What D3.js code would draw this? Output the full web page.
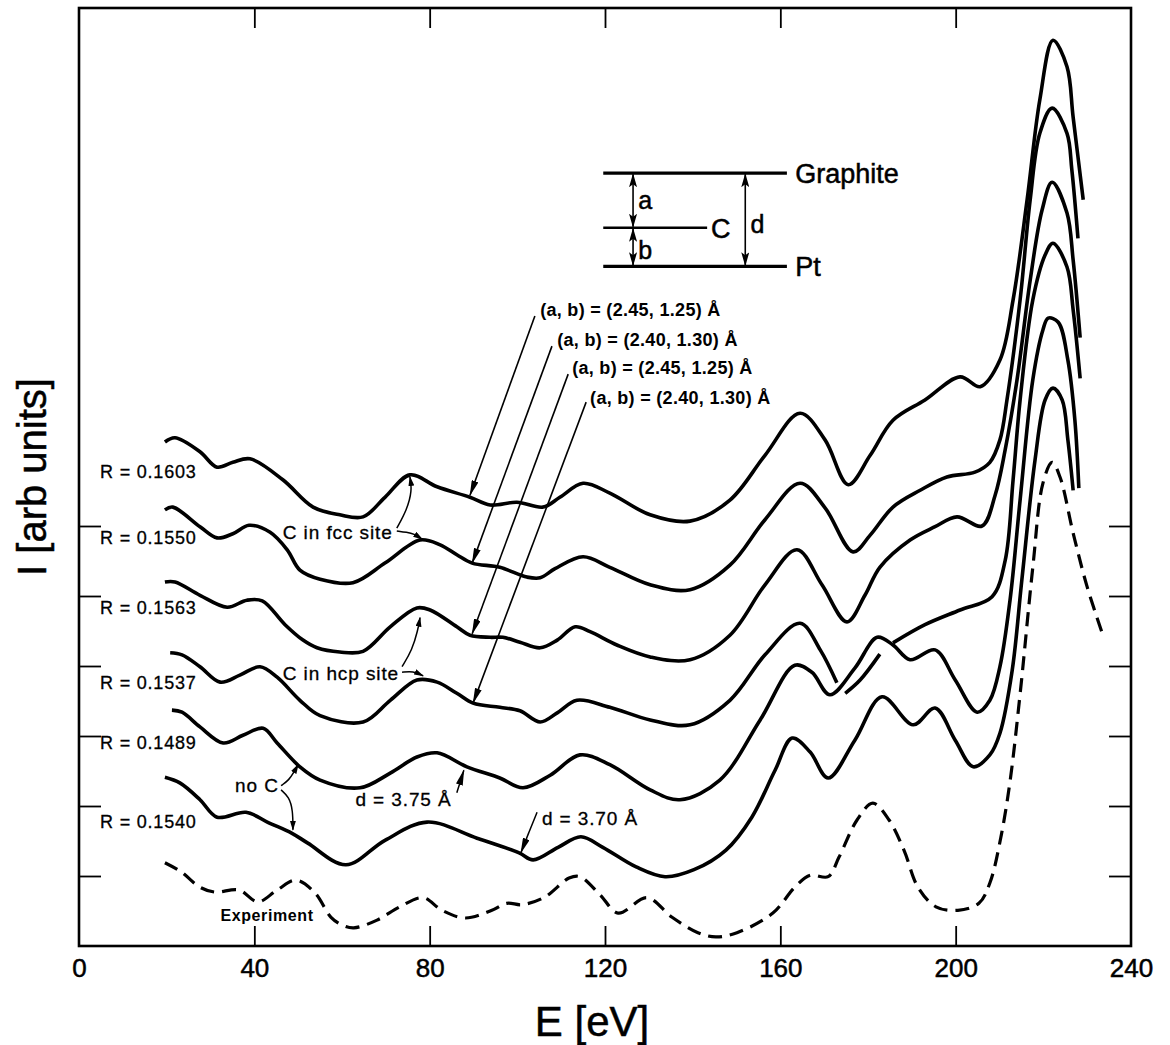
<!DOCTYPE html>
<html>
<head>
<meta charset="utf-8">
<script src="https://cdn.jsdelivr.net/npm/d3@7"></script>
<style>
  body { margin: 0; background: #fff; }
  svg text { font-family: "Liberation Sans", Arial, Helvetica, sans-serif; fill: #000; }
  .heavy { stroke: #000; stroke-width: 0.5px; }
</style>
</head>
<body>
<div id="chart"></div>
<script>
// ---- data (E in eV, I in arb units) ----
const xTicks = [0, 40, 80, 120, 160, 200, 240];
const xInnerTicks = [40, 80, 120, 160, 200];
const yTicks = [1, 2, 3, 4, 5, 6];

const rLabels = ["R = 0.1603", "R = 0.1550", "R = 0.1563", "R = 0.1537", "R = 0.1489", "R = 0.1540"];

const curve1603 = [[19.6,7.20],[21.9,7.26],[27.6,7.06],[31.5,6.84],[35.1,6.91],[39.0,6.96],[46.5,6.66],[53.4,6.27],[59.5,6.16],[64.8,6.13],[69.8,6.41],[75.5,6.73],[81.7,6.56],[89.2,6.41],[93.8,6.30],[99.9,6.34],[105.9,6.27],[109.7,6.41],[115.0,6.61],[121.1,6.47],[130.3,6.16],[139.4,6.07],[148.5,6.37],[156.5,7.01],[164.5,7.61],[170.2,7.23],[175.5,6.59],[180.5,7.01],[185.7,7.51],[193.0,7.80],[201.0,8.13],[205.6,7.99],[210.1,8.37],[213.1,9.23],[216.3,10.66],[219.2,12.09],[222.2,12.94],[225.4,12.56],[226.8,11.84],[229.1,10.66]];

const curve1550 = [[19.6,6.23],[21.4,6.27],[27.6,5.99],[31.5,5.83],[35.1,5.89],[38.8,6.01],[43.6,5.91],[47.5,5.66],[50.4,5.37],[55.0,5.24],[62.5,5.19],[69.8,5.47],[77.8,5.80],[82.4,5.73],[86.2,5.59],[89.7,5.47],[96.0,5.41],[102.2,5.27],[105.2,5.26],[108.6,5.39],[115.0,5.56],[121.1,5.41],[130.3,5.16],[139.4,5.09],[148.5,5.44],[156.5,6.09],[164.5,6.61],[170.2,6.26],[176.6,5.63],[180.5,5.87],[185.7,6.27],[191.9,6.51],[198.0,6.70],[204.4,6.77],[207.8,6.91],[210.1,7.23],[211.7,7.80],[214.7,9.23],[217.0,10.66],[219.2,11.61],[222.0,11.97],[225.4,11.61],[226.5,11.09],[227.9,10.11]];

const curve1563 = [[19.6,5.20],[21.9,5.20],[27.6,5.01],[33.8,4.84],[38.3,4.94],[41.8,4.93],[47.0,4.59],[51.1,4.37],[54.3,4.26],[59.5,4.20],[64.8,4.21],[71.0,4.56],[77.1,4.83],[80.1,4.80],[86.2,4.56],[89.2,4.44],[93.8,4.41],[96.7,4.41],[100.6,4.34],[105.2,4.26],[109.1,4.37],[113.2,4.56],[116.6,4.49],[122.7,4.30],[130.3,4.13],[139.4,4.09],[148.5,4.44],[156.5,5.16],[163.8,5.66],[169.5,5.16],[175.2,4.63],[179.3,5.01],[182.7,5.41],[189.6,5.80],[195.3,5.99],[200.3,6.13],[206.0,6.00],[209.0,6.44],[211.3,7.09],[214.0,8.09],[217.0,9.51],[219.7,10.51],[222.0,10.91],[225.4,10.47],[226.8,9.80],[228.4,8.69]];

// null entries mark the breaks where the line passes under the R = 0.1489 curve
const curve1537 = [[20.8,4.19],[23.5,4.16],[27.6,3.99],[32.2,3.77],[36.7,3.87],[41.3,3.99],[45.2,3.84],[50.4,3.51],[55.0,3.29],[64.8,3.20],[71.0,3.51],[77.1,3.80],[81.7,3.77],[86.2,3.61],[89.9,3.47],[96.0,3.41],[100.6,3.36],[105.2,3.20],[109.1,3.33],[113.6,3.51],[121.1,3.41],[130.3,3.23],[139.4,3.16],[148.5,3.51],[156.5,4.16],[164.5,4.61],[169.1,4.23],[172.9,3.76],[174.0,null],[174.8,3.61],[178.2,3.80],[182.7,4.17],[184.2,null],[185.7,4.33],[193.0,4.59],[201.0,4.80],[208.3,4.99],[211.3,5.51],[213.1,6.66],[214.7,7.80],[217.6,9.23],[220.4,9.87],[222.2,10.04],[225.4,9.70],[226.8,9.09],[228.4,8.11]];

const curve1489 = [[21.2,3.37],[23.5,3.34],[27.6,3.13],[32.9,2.90],[37.4,3.01],[42.0,3.11],[45.2,2.90],[50.4,2.56],[55.0,2.37],[64.1,2.26],[71.0,2.47],[77.1,2.70],[81.7,2.76],[88.5,2.56],[96.0,2.40],[101.3,2.26],[107.5,2.44],[114.3,2.73],[121.1,2.59],[130.3,2.23],[137.1,2.09],[146.2,2.37],[155.4,3.23],[163.3,4.01],[167.2,3.91],[171.3,3.59],[177.0,3.97],[182.1,4.41],[185.7,4.30],[189.6,4.09],[195.3,4.23],[199.9,3.80],[204.9,3.34],[207.8,3.51],[210.1,3.99],[212.4,4.94],[214.7,6.37],[217.6,8.09],[219.9,8.80],[221.1,8.97],[223.4,8.91],[225.6,8.37],[227.2,7.51],[228.1,6.54]];

const curve1540 = [[19.6,2.41],[23.0,2.33],[27.6,2.09],[31.5,1.84],[38.1,1.91],[43.3,1.76],[48.6,1.61],[52.2,1.47],[60.9,1.16],[69.8,1.51],[79.4,1.77],[90.8,1.54],[100.4,1.33],[103.6,1.23],[109.3,1.41],[114.5,1.56],[119.5,1.41],[127.1,1.13],[133.7,0.99],[140.3,1.09],[147.6,1.37],[153.5,1.84],[158.8,2.51],[162.7,2.97],[166.8,2.77],[170.9,2.40],[177.0,2.94],[183.2,3.56],[190.3,3.16],[195.3,3.40],[199.9,2.94],[204.0,2.56],[207.8,2.73],[210.1,3.04],[212.9,3.94],[215.1,5.23],[218.1,6.94],[220.4,7.80],[222.2,7.97],[224.3,7.80],[225.6,7.23],[226.8,6.51]];

const experiment = [[19.6,1.19],[23.3,1.06],[27.6,0.84],[31.0,0.77],[36.5,0.80],[40.8,0.63],[45.2,0.80],[49.5,0.94],[53.8,0.76],[57.5,0.41],[60.0,0.30],[62.7,0.26],[68.0,0.37],[73.2,0.56],[78.5,0.69],[82.8,0.51],[88.1,0.40],[94.2,0.51],[97.6,0.61],[101.1,0.59],[106.3,0.70],[111.8,0.97],[114.3,0.99],[118.9,0.73],[123.0,0.47],[129.6,0.69],[135.3,0.41],[141.2,0.19],[145.3,0.13],[150.1,0.19],[158.3,0.47],[163.3,0.84],[166.8,1.01],[170.9,0.99],[173.4,1.27],[177.5,1.80],[181.1,2.04],[184.8,1.80],[188.2,1.37],[191.4,0.84],[195.5,0.56],[200.5,0.51],[205.3,0.61],[207.8,0.90],[210.3,1.55],[212.4,2.35],[214.7,3.60],[217.6,5.41],[219.9,6.61],[222.0,6.91],[223.8,6.70],[226.8,5.90],[230.0,5.13],[233.6,4.44]];

const theoryCurves = [curve1603, curve1550, curve1563, curve1537, curve1489, curve1540];

const abLabels = ["(a, b) = (2.45, 1.25) Å", "(a, b) = (2.40, 1.30) Å", "(a, b) = (2.45, 1.25) Å", "(a, b) = (2.40, 1.30) Å"];

// ---- layout ----
const W = 1170, H = 1045;
const svg = d3.select("#chart").append("svg")
  .attr("width", W).attr("height", H)
  .style("background", "#fff");

const x = d3.scaleLinear().domain([0, 240]).range([79, 1131]);
const y = d3.scaleLinear().domain([0, 13.4]).range([946, 8]);

// markers
const defs = svg.append("defs");
defs.append("marker").attr("id", "head")
  .attr("viewBox", "0 0 16 7").attr("refX", 15).attr("refY", 3.5)
  .attr("markerWidth", 16).attr("markerHeight", 7)
  .attr("markerUnits", "userSpaceOnUse").attr("orient", "auto-start-reverse")
  .append("path").attr("d", "M0,0 L16,3.5 L0,7 Z").attr("fill", "#000");
defs.append("marker").attr("id", "small")
  .attr("viewBox", "0 0 10 6").attr("refX", 9).attr("refY", 3)
  .attr("markerWidth", 10).attr("markerHeight", 6)
  .attr("markerUnits", "userSpaceOnUse").attr("orient", "auto-start-reverse")
  .append("path").attr("d", "M0,0 L10,3 L0,6 Z").attr("fill", "#000");
defs.append("marker").attr("id", "dim")
  .attr("viewBox", "0 0 14 8").attr("refX", 13).attr("refY", 4)
  .attr("markerWidth", 14).attr("markerHeight", 8)
  .attr("markerUnits", "userSpaceOnUse").attr("orient", "auto-start-reverse")
  .append("path").attr("d", "M0,0 L14,4 L0,8 L3,4 Z").attr("fill", "#000");

// frame
svg.append("rect")
  .attr("x", x(0)).attr("y", y(13.4))
  .attr("width", x(240) - x(0)).attr("height", y(0) - y(13.4))
  .attr("fill", "none").attr("stroke", "#000").attr("stroke-width", 2.6);

// axes (inward ticks)
const gBottom = svg.append("g").attr("transform", `translate(0,${y(0)})`)
  .call(d3.axisBottom(x).tickValues(xTicks).tickSizeInner(0).tickSizeOuter(0).tickPadding(13));
gBottom.select(".domain").remove();
gBottom.selectAll("text").attr("class", "heavy").style("font-size", "26px");

svg.append("g").attr("transform", `translate(0,${y(0)})`)
  .call(d3.axisBottom(x).tickValues(xInnerTicks).tickSize(-20).tickFormat(""))
  .call(g => g.select(".domain").remove())
  .selectAll("line").attr("stroke-width", 1.8);

svg.append("g").attr("transform", `translate(0,${y(13.4)})`)
  .call(d3.axisTop(x).tickValues(xInnerTicks).tickSize(-20).tickFormat(""))
  .call(g => g.select(".domain").remove())
  .selectAll("line").attr("stroke-width", 1.8);

svg.append("g").attr("transform", `translate(${x(0)},0)`)
  .call(d3.axisLeft(y).tickValues(yTicks).tickSize(-22).tickFormat(""))
  .call(g => g.select(".domain").remove())
  .selectAll("line").attr("stroke-width", 1.8);

svg.append("g").attr("transform", `translate(${x(240)},0)`)
  .call(d3.axisRight(y).tickValues(yTicks).tickSize(-22).tickFormat(""))
  .call(g => g.select(".domain").remove())
  .selectAll("line").attr("stroke-width", 1.8);

// axis titles
svg.append("text")
  .attr("class", "heavy")
  .attr("x", 592).attr("y", 1036)
  .attr("text-anchor", "middle")
  .style("font-size", "42px")
  .text("E [eV]");

svg.append("text")
  .attr("class", "heavy")
  .attr("transform", `translate(46,${y(6.7)}) rotate(-90)`)
  .attr("text-anchor", "middle")
  .style("font-size", "40px")
  .text("I [arb units]");

// curves
const line = d3.line()
  .defined(d => d[1] != null)
  .x(d => x(d[0]))
  .y(d => y(d[1]))
  .curve(d3.curveCatmullRom.alpha(0.5));

svg.selectAll(".theory")
  .data(theoryCurves)
  .join("path")
  .attr("class", "theory")
  .attr("d", line)
  .attr("fill", "none")
  .attr("stroke", "#000")
  .attr("stroke-width", 3.6)
  .attr("stroke-linejoin", "round");

svg.append("path")
  .datum(experiment)
  .attr("d", line)
  .attr("fill", "none")
  .attr("stroke", "#000")
  .attr("stroke-width", 3.2)
  .attr("stroke-dasharray", "14,8");

// R labels
const rLabelPos = [6.77, 5.83, 4.83, 3.76, 2.90, 1.77];
svg.selectAll(".rlab")
  .data(rLabels)
  .join("text")
  .attr("class", "rlab")
  .attr("x", x(4.8))
  .attr("y", (d, i) => y(rLabelPos[i]))
  .attr("dy", "0.35em")
  .style("font-size", "18px")
  .style("letter-spacing", "0.8px")
  .style("stroke", "#000").style("stroke-width", "0.3px")
  .text(d => d);

svg.append("text")
  .attr("x", x(42.9)).attr("y", y(0.44)).attr("dy", "0.35em")
  .attr("text-anchor", "middle")
  .style("font-size", "16px").style("font-weight", "bold").style("letter-spacing", "0.6px")
  .text("Experiment");

// (a, b) annotations with long arrows
const abText = [[105.2, 9.09], [109.1, 8.66], [112.5, 8.26], [116.6, 7.84]];
const abArrow = [
  [[104.0, 9.00], [89.2, 6.44]],
  [[107.9, 8.57], [89.7, 5.47]],
  [[111.6, 8.17], [89.7, 4.46]],
  [[115.7, 7.77], [89.9, 3.47]]
];
svg.selectAll(".ablab")
  .data(abLabels)
  .join("text")
  .attr("class", "ablab")
  .attr("x", (d, i) => x(abText[i][0]))
  .attr("y", (d, i) => y(abText[i][1]))
  .attr("dy", "0.35em")
  .style("font-size", "18px").style("font-weight", "bold").style("letter-spacing", "0.3px")
  .text(d => d);

const straight = d3.line().x(d => x(d[0])).y(d => y(d[1]));
svg.selectAll(".abarrow")
  .data(abArrow)
  .join("path")
  .attr("class", "abarrow")
  .attr("d", straight)
  .attr("stroke", "#000").attr("stroke-width", 1.6).attr("fill", "none")
  .attr("marker-end", "url(#head)");

// curly pointer arrows
const curly = d3.line().x(d => x(d[0])).y(d => y(d[1])).curve(d3.curveBasis);
const pointers = [
  [[72.5, 5.97], [74.8, 6.23], [76.0, 6.51], [75.5, 6.70]],
  [[72.5, 5.93], [74.8, 5.91], [76.4, 5.89], [78.3, 5.81]],
  [[73.7, 3.99], [76.0, 4.23], [77.3, 4.51], [77.8, 4.69]],
  [[73.7, 3.91], [76.2, 3.93], [78.5, 3.86]],
  [[46.1, 2.29], [47.9, 2.37], [49.1, 2.49], [50.0, 2.59]],
  [[46.1, 2.23], [47.9, 2.13], [48.8, 1.94], [48.8, 1.66]],
  [[86.2, 2.19], [87.0, 2.35], [87.8, 2.51]],
  [[104.5, 1.91], [102.6, 1.62], [100.8, 1.33]]
];
svg.selectAll(".pointer")
  .data(pointers)
  .join("path")
  .attr("class", "pointer")
  .attr("d", curly)
  .attr("stroke", "#000").attr("stroke-width", 1.5).attr("fill", "none")
  .attr("marker-end", (d, i) => i >= 6 ? "url(#head)" : "url(#small)");

const notes = [
  {t: "C in fcc site", e: 46.5, i: 5.91, a: "start"},
  {t: "C in hcp site", e: 46.5, i: 3.90, a: "start"},
  {t: "no C", e: 35.6, i: 2.29, a: "start"},
  {t: "d = 3.75 Å", e: 85.0, i: 2.09, a: "end"},
  {t: "d = 3.70 Å", e: 105.6, i: 1.83, a: "start"}
];
svg.selectAll(".note")
  .data(notes)
  .join("text")
  .attr("class", "note")
  .attr("x", d => x(d.e)).attr("y", d => y(d.i)).attr("dy", "0.35em")
  .attr("text-anchor", d => d.a)
  .style("font-size", "19px").style("letter-spacing", "0.9px")
  .style("stroke", "#000").style("stroke-width", "0.3px")
  .text(d => d.t);

// inset: layer geometry
const inset = svg.append("g");
const levels = [
  {i: 11.04, e0: 119.6, e1: 161.5, label: "Graphite", le: 163.4},
  {i: 10.26, e0: 119.6, e1: 143.3, label: "C", le: 144.2},
  {i: 9.71, e0: 119.6, e1: 161.5, label: "Pt", le: 163.4}
];
inset.selectAll("line.lev")
  .data(levels)
  .join("line")
  .attr("class", "lev")
  .attr("x1", d => x(d.e0)).attr("x2", d => x(d.e1))
  .attr("y1", d => y(d.i)).attr("y2", d => y(d.i))
  .attr("stroke", "#000").attr("stroke-width", (d, k) => k === 1 ? 2.4 : 3.2);
inset.selectAll("text.lev")
  .data(levels)
  .join("text")
  .attr("class", "lev heavy")
  .attr("x", d => x(d.le)).attr("y", d => y(d.i)).attr("dy", "0.36em")
  .style("font-size", "27px")
  .text(d => d.label);

const dims = [
  {e: 126.4, i0: 11.04, i1: 10.26, label: "a", le: 127.6, li: 10.66},
  {e: 126.4, i0: 10.26, i1: 9.71, label: "b", le: 127.6, li: 9.94},
  {e: 152.0, i0: 11.04, i1: 9.71, label: "d", le: 153.2, li: 10.32}
];
inset.selectAll("line.dim")
  .data(dims)
  .join("line")
  .attr("class", "dim")
  .attr("x1", d => x(d.e)).attr("x2", d => x(d.e))
  .attr("y1", d => y(d.i0) + 1).attr("y2", d => y(d.i1) - 1)
  .attr("stroke", "#000").attr("stroke-width", 1.6)
  .attr("marker-start", "url(#dim)").attr("marker-end", "url(#dim)");
inset.selectAll("text.dim")
  .data(dims)
  .join("text")
  .attr("class", "dim heavy")
  .attr("x", d => x(d.le)).attr("y", d => y(d.li)).attr("dy", "0.36em")
  .style("font-size", "25px")
  .text(d => d.label);
</script>
</body>
</html>
